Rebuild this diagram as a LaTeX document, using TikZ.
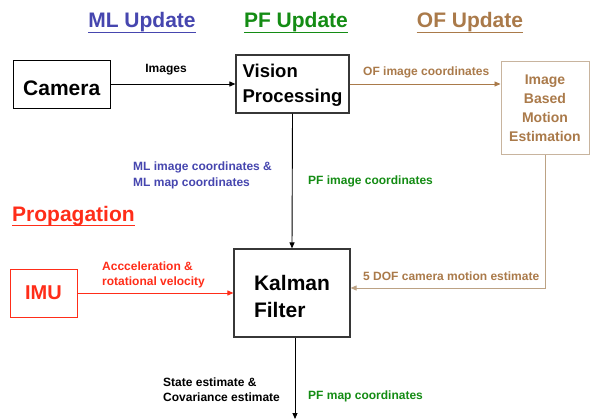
\documentclass[tikz,border=0pt]{standalone}
\usepackage{fontspec}
\setmainfont{Liberation Sans}
\usetikzlibrary{arrows.meta,calc}
\definecolor{mlblue}{RGB}{70,70,175}
\definecolor{pfgreen}{RGB}{20,140,20}
\definecolor{ofbrown}{RGB}{170,122,74}
\definecolor{ofborder}{RGB}{200,180,158}
\definecolor{ofline}{RGB}{188,162,132}
\definecolor{imured}{RGB}{255,45,25}
\definecolor{boxgray}{RGB}{55,55,55}
\begin{document}
\begin{tikzpicture}[x=1pt,y=-1pt,
  box/.style={draw=boxgray,line width=1.2pt,fill=white,inner sep=0pt},
  lbl/.style={inner sep=0pt,anchor=base west,font=\fontsize{12}{14}\selectfont\bfseries},
  ttl/.style={inner sep=0pt,anchor=base,font=\fontsize{21}{25}\selectfont\bfseries},
  conn/.style={line width=0.9pt,-{Triangle[length=6pt,width=5pt]}},
  uline/.style={line width=1.8pt}
]
\useasboundingbox (0,0) rectangle (594,420);
\fill[white] (0,0) rectangle (594,420);

% titles
\node[ttl,mlblue] (tml) at (142,28) {ML Update};
\coordinate (mlu1) at ($(tml.base west)+(0,4.5)$);
\coordinate (mlu2) at ($(tml.base east)+(0,4.5)$);
\draw[uline,draw=mlblue] (mlu1) -- (mlu2);
\node[ttl,pfgreen] (tpf) at (296,28) {PF Update};
\coordinate (pfu1) at ($(tpf.base west)+(0,4.5)$);
\coordinate (pfu2) at ($(tpf.base east)+(0,4.5)$);
\draw[uline,draw=pfgreen] (pfu1) -- (pfu2);
\node[ttl,ofbrown] (tof) at (470,28) {OF Update};
\coordinate (ofu1) at ($(tof.base west)+(0,4.5)$);
\coordinate (ofu2) at ($(tof.base east)+(0,4.5)$);
\draw[uline,draw=ofbrown] (ofu1) -- (ofu2);
\node[ttl,imured,anchor=base west] (tprop) at (12,221.5) {Propagation};
\coordinate (pru1) at ($(tprop.base west)+(0,4)$);
\coordinate (pru2) at ($(tprop.base east)+(0,4)$);
\draw[uline,draw=imured] (pru1) -- (pru2);

% boxes
\node[box,draw=black,minimum width=97pt,minimum height=47.5pt,
      font=\fontsize{21}{25}\selectfont\bfseries] (cam) at (61.7,84.5) {\rule{0pt}{22.4pt}Camera};
\node[box,minimum width=113pt,minimum height=58pt,align=left,
      font=\fontsize{18.5}{25}\selectfont\bfseries] (vis) at (292.5,84)
      {\rule{0pt}{16.9pt}Vision\\Processing};
\node[box,draw=ofborder,line width=1pt,text=ofbrown,minimum width=88pt,minimum height=93pt,
      align=center,font=\fontsize{14}{18.8}\selectfont\bfseries] (ibme) at (545,108.3)
      {Image\\Based\\Motion\\Estimation};
\node[box,minimum width=116pt,minimum height=88pt,align=left,
      font=\fontsize{21}{27}\selectfont\bfseries] (kal) at (292,293)
      {\rule{0pt}{23pt}Kalman\\Filter};
\node[box,draw=imured,text=imured,line width=1pt,minimum width=67pt,minimum height=48pt,
      font=\fontsize{20}{24}\selectfont\bfseries] (imu) at (43.5,293) {IMU};

% connectors
\draw[conn] (cam.east |- vis.west) -- (vis.west);
\draw[conn,ofbrown] (vis.east) -- (vis.east -| ibme.west);
\draw[conn] (vis.south) -- (kal.north);
\draw[conn,imured] (imu.east) -- (kal.west);
\coordinate (dofbend) at (545,288);
\draw[conn,ofline] (ibme.south) -- (ibme.south |- dofbend) -- (kal.east |- dofbend);
\coordinate (outend) at (295,419);
\draw[conn] ([xshift=3pt]kal.south) -- (outend);

% labels
\node[lbl,anchor=base] (images) at (166,72) {Images};
\node[lbl,ofbrown] (oflbl) at (363,75) {OF image coordinates};
\node[lbl,mlblue] (ml1) at (133,170) {ML image coordinates \&};
\node[lbl,mlblue] (ml2) at (133,186) {ML map coordinates};
\node[lbl,pfgreen] (pfimg) at (308,184) {PF image coordinates};
\node[lbl,imured] (acc1) at (102,270.5) {Accceleration \&};
\node[lbl,imured] (acc2) at (102,285.5) {rotational velocity};
\node[lbl,ofbrown] (dof) at (363,280) {5 DOF camera motion estimate};
\node[lbl] (st1) at (163,386) {State estimate \&};
\node[lbl] (st2) at (163,401) {Covariance estimate};
\node[lbl,pfgreen] (pfmap) at (308,399) {PF map coordinates};
\end{tikzpicture}
\end{document}
